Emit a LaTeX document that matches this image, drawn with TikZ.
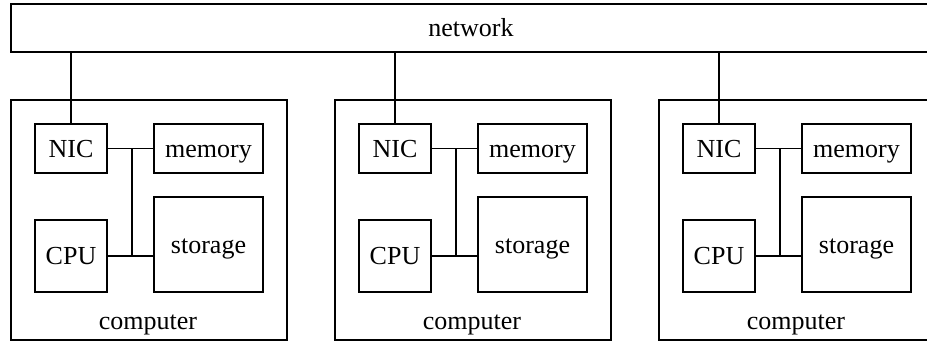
\documentclass[tikz,border=0pt]{standalone}
\usepackage{fontspec}
\setmainfont{Liberation Serif}
\begin{document}
\begin{tikzpicture}[x=1pt,y=-1pt,
  box/.style={draw,line width=1.6pt,inner sep=0pt,rectangle,font=\fontsize{26}{30}\selectfont,text height=17.2pt,text depth=0pt},
  wire/.style={line width=1.6pt},
  lbl/.style={inner sep=0pt,anchor=base,font=\fontsize{26}{30}\selectfont}]
\useasboundingbox (0,0) rectangle (927,343);
\clip (0,0) rectangle (927,343);
\node[box,minimum width=920pt,minimum height=48pt] (net) at (471,28) {network};
\foreach \i/\dx in {1/0,2/324,3/648}{
  \node[box,minimum width=276pt,minimum height=240pt] (c\i) at (149+\dx,220) {};
  \node[lbl] (cl\i) at (148+\dx,329) {computer};
  \node[box,minimum width=72pt,minimum height=49pt] (nic\i) at (71+\dx,148.5) {NIC};
  \node[box,minimum width=109pt,minimum height=49pt] (mem\i) at (208.5+\dx,148.5) {memory};
  \node[box,minimum width=72pt,minimum height=72pt] (cpu\i) at (71+\dx,256) {CPU};
  \node[box,minimum width=109pt,minimum height=95pt] (sto\i) at (208.5+\dx,244.5) {storage};
  \coordinate (bt\i) at (132+\dx,148.5);
  \coordinate (bb\i) at (132+\dx,256);
  \draw[wire] (nic\i.north) -- (nic\i.north |- net.south);
  \draw[wire] (nic\i.east) -- (mem\i.west);
  \draw[wire] (cpu\i.east) -- (sto\i.west |- cpu\i.east);
  \draw[wire] (bt\i) -- (bb\i);
}
\end{tikzpicture}
\end{document}
